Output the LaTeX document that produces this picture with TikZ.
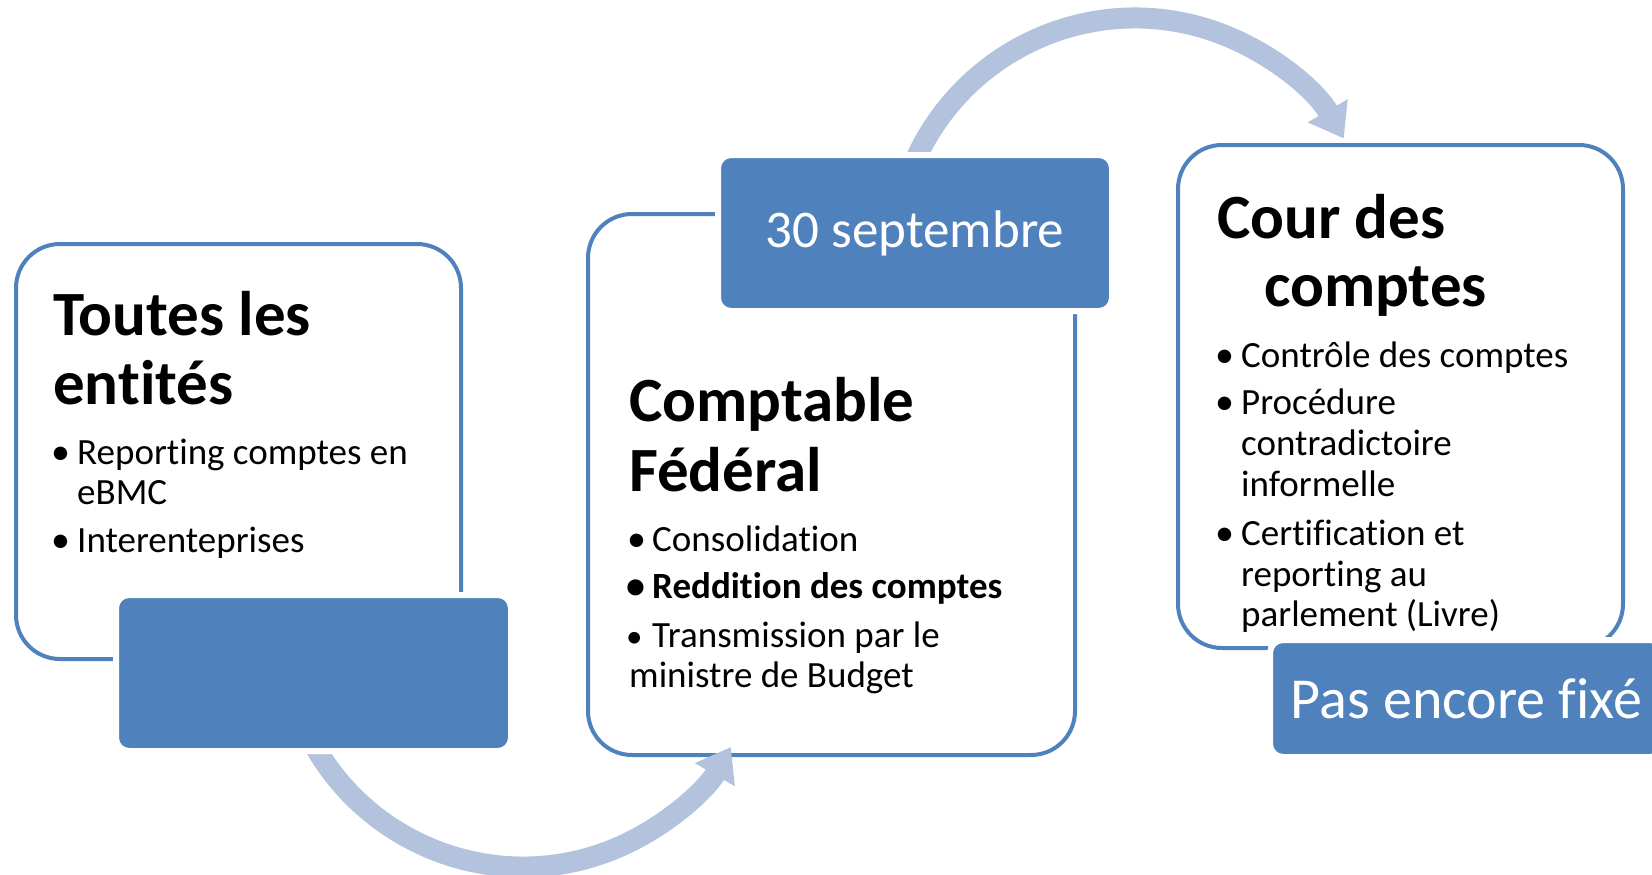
\documentclass[tikz,border=0pt]{standalone}
\usepackage{fontspec}
\setmainfont{Carlito}[Ligatures={NoCommon}]
\usetikzlibrary{arrows.meta}
\definecolor{accent}{RGB}{79,129,189}
\definecolor{arrowc}{RGB}{179,195,222}
\begin{document}
\begin{tikzpicture}[x=1pt,y=-1pt,
  outline/.style={draw=accent, line width=4pt, fill=white, rounded corners=44pt, inner sep=0pt},
  datebox/.style={fill=accent, draw=white, line width=6pt, rounded corners=13pt, inner sep=0pt, text=white},
  flow/.style={draw=arrowc, line width=21pt, -{Triangle[length=32pt,width=44pt]}},
  title/.style={anchor=base west, inner sep=0pt, font=\fontsize{63}{70}\selectfont\bfseries},
  item/.style={anchor=base west, inner sep=0pt, font=\fontsize{37}{40}\selectfont},
  bolditem/.style={item, font=\fontsize{37}{40}\selectfont\bfseries},
  dot/.style={anchor=base west, inner sep=0pt, font=\fontsize{38}{40}\selectfont},
  smalldot/.style={anchor=base west, inner sep=0pt, font=\fontsize{33}{40}\selectfont}
]
\useasboundingbox (0,0) rectangle (1652,875);

% outlined boxes
\node[outline, minimum width=445pt, minimum height=415pt] (b1) at (238.5,451.5) {};
\node[outline, minimum width=487pt, minimum height=541pt] (b2) at (831.5,484.5) {};
\node[outline, minimum width=445pt, minimum height=503pt] (b3) at (1400.5,396.5) {};

% arrows
\coordinate (c1) at (523,627);
\coordinate (c2) at (1135,259);
\path (c1) ++(155:240) coordinate (a1s);
\path (c2) ++(200:241) coordinate (a2s);
\draw[flow] (a1s) arc[start angle=155, end angle=30, radius=240];
\draw[flow] (a2s) arc[start angle=200, end angle=330, radius=241];

% filled boxes
\node[datebox, minimum width=395pt, minimum height=156pt] (f1) at (313.5,673) {};
\node[datebox, minimum width=394pt, minimum height=156pt, font=\fontsize{53}{60}\selectfont] (f2) at (915,233) {30 septembre};
\node[datebox, minimum width=393pt, minimum height=117pt, font=\fontsize{58}{64}\selectfont] (f3) at (1466.5,698.5) {Pas encore fixé};

% box 1 text
\node[title] (t1a) at (53,335) {Toutes les};
\node[title] (t1b) at (53,404) {entités};
\node[dot] (k1a) at (51,464) {•};
\node[item] (i1a) at (77,464) {Reporting comptes en};
\node[item] (i1b) at (77,504) {eBMC};
\node[dot] (k1b) at (51,552) {•};
\node[item] (i1c) at (77,552) {Interenteprises};

% box 2 text
\node[title] (t2a) at (629,421) {Comptable};
\node[title] (t2b) at (629,491) {Fédéral};
\node[dot] (k2a) at (627,551) {•};
\node[item] (i2a) at (652,551) {Consolidation};
\node[dot, font=\fontsize{38}{40}\selectfont\bfseries] (k2b) at (626,598) {•};
\node[bolditem] (i2b) at (652,598) {Reddition des comptes};
\node[smalldot] (k2c) at (626,647) {•};
\node[item] (i2c) at (652,647) {Transmission par le};
\node[item] (i2d) at (629,687) {ministre de Budget};

% box 3 text
\node[title] (t3a) at (1217,238) {Cour des};
\node[title] (t3b) at (1264,306) {comptes};
\node[dot] (k3a) at (1215,367) {•};
\node[item] (i3a) at (1241,367) {Contrôle des comptes};
\node[dot] (k3b) at (1215,414) {•};
\node[item] (i3b) at (1241,414) {Procédure};
\node[item] (i3c) at (1241,455) {contradictoire};
\node[item] (i3d) at (1241,496) {informelle};
\node[dot] (k3c) at (1215,545) {•};
\node[item] (i3e) at (1241,545) {Certification et};
\node[item] (i3f) at (1241,586) {reporting au};
\node[item] (i3g) at (1241,626) {parlement (Livre)};
\end{tikzpicture}
\end{document}
